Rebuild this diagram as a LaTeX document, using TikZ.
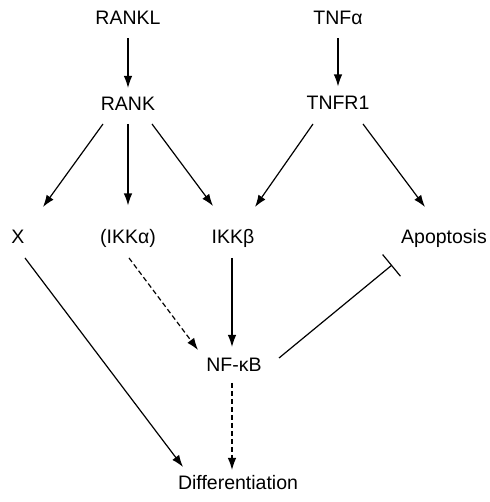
\documentclass[tikz,border=0pt]{standalone}
\usepackage{fontspec}
\setmainfont{Liberation Sans}
\usetikzlibrary{arrows.meta}
\begin{document}
\begin{tikzpicture}[x=1pt, y=1pt,
	lbl/.style={inner sep=0pt, text height=13.6pt, text depth=0pt, font=\fontsize{19.5}{22}\selectfont},
	act/.style={line width=1.2pt, -{Latex[length=12pt, width=8.5pt]}},
	weak/.style={act, dash pattern=on 5pt off 3pt},
	inhib/.style={line width=1.2pt, -{Bar[width=28pt, line width=1.2pt]}}]
\useasboundingbox (0,0) rectangle (489,502);
\node[lbl] (rankl) at (128,484.5) {RANKL};
\node[lbl] (tnfa) at (338,484.5) {TNFα};
\node[lbl] (rank) at (128,398) {RANK};
\node[lbl] (tnfr) at (338,399.5) {TNFR1};
\node[lbl] (x) at (18,265.5) {X};
\node[lbl] (ikka) at (128,265.5) {(IKKα)};
\node[lbl] (ikkb) at (233,265.5) {IKKβ};
\node[lbl] (apop) at (444,265.5) {Apoptosis};
\node[lbl] (nfkb) at (234,137) {NF-κB};
\node[lbl] (diff) at (238,19) {Differentiation};
\draw[act] ([yshift=-21pt]rankl.center) -- ([yshift=16pt]rank.center);
\draw[act] ([yshift=-21pt]tnfa.center) -- ([yshift=16pt]tnfr.center);
\draw[act] ([shift={(-25pt,-20pt)}]rank.center) -- ([shift={(25pt,29.5pt)}]x.center);
\draw[act] ([yshift=-20pt]rank.center) -- ([yshift=31pt]ikka.center);
\draw[act] ([shift={(24pt,-20pt)}]rank.center) -- ([shift={(-20pt,30.5pt)}]ikkb.center);
\draw[act] ([shift={(-25pt,-21.5pt)}]tnfr.center) -- ([shift={(22pt,29.5pt)}]ikkb.center);
\draw[act] ([shift={(25pt,-21.5pt)}]tnfr.center) -- ([shift={(-19pt,29.5pt)}]apop.center);
\draw[act] ([shift={(7pt,-21.5pt)}]x.center) -- ([shift={(-55pt,16pt)}]diff.center);
\draw[weak] ([shift={(1pt,-21.5pt)}]ikka.center) -- ([shift={(-36pt,15pt)}]nfkb.center);
\draw[act] ([shift={(-1pt,-21.5pt)}]ikkb.center) -- ([shift={(-2pt,18pt)}]nfkb.center);
\draw[inhib] ([shift={(45pt,7pt)}]nfkb.center) -- ([shift={(-52pt,-28.5pt)}]apop.center);
\draw[weak] ([shift={(-2pt,-18pt)}]nfkb.center) -- ([shift={(-6pt,13pt)}]diff.center);
\end{tikzpicture}
\end{document}
